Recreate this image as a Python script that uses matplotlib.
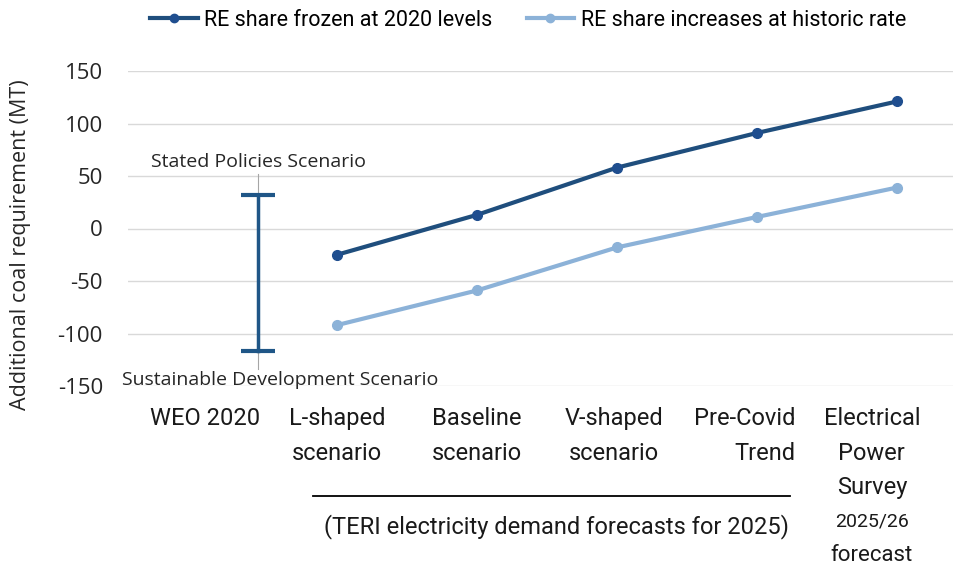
import matplotlib
matplotlib.use("Agg")
import matplotlib.pyplot as plt
from matplotlib import font_manager as fm
from matplotlib.lines import Line2D

names = {f.name for f in fm.fontManager.ttflist}
NARROW = ['Liberation Sans Narrow', 'DejaVu Sans'] if 'Liberation Sans Narrow' in names else ['Roboto', 'DejaVu Sans']
WIDE = ['Open Sans', 'DejaVu Sans']

# ---- data ----
categories = ["L-shaped\nscenario", "Baseline\nscenario", "V-shaped\nscenario", "Pre-Covid\nTrend", "Electrical\nPower\nSurvey"]
frozen = [-25, 13, 58, 91, 121]
historic = [-92, -59, -18, 11, 39]
weo_label = "WEO 2020"
weo_high = 32   # Stated Policies Scenario
weo_low = -117  # Sustainable Development Scenario
yticks = [-150, -100, -50, 0, 50, 100, 150]
series_names = ["RE share frozen at 2020 levels", "RE share increases at historic rate"]

DARK = '#1f4e7d'
LIGHT = '#8cb2d8'
EB = '#1f5687'
TXT = '#1a1a1a'

W, H = 954, 564
fig = plt.figure(figsize=(W / 100, H / 100), dpi=100)
ax = fig.add_axes([128 / W, 178 / H, (W - 128) / W, 315 / H])

x = [1, 2, 3, 4, 5]
ax.plot(x, frozen, color=DARK, lw=3, marker='o', ms=7, mfc='#1f4e8f', mec='#1f4e8f', zorder=3)
ax.plot(x, historic, color=LIGHT, lw=3, marker='o', ms=7, mfc=LIGHT, mec=LIGHT, zorder=3)

# WEO error bar
xw = 0.436
ax.plot([xw, xw], [weo_low, weo_high], color=EB, lw=2.5, zorder=3)
cap = 0.12
for yv in (weo_low, weo_high):
    ax.plot([xw - cap, xw + cap], [yv, yv], color=EB, lw=3, solid_capstyle='butt', zorder=3)
# leader lines
ax.plot([xw, xw], [weo_high, 52], color='#a6a6a6', lw=0.8, zorder=2)
ax.plot([xw, xw], [weo_low, -134], color='#a6a6a6', lw=0.8, zorder=2)
ax.text(xw, 63, "Stated Policies Scenario", ha='center', va='center', fontsize=14, family=WIDE, color='#262626')
ax.text(0.593, -144, "Sustainable Development Scenario", ha='center', va='center', fontsize=14, family=WIDE, color='#262626')

ax.set_xlim(-0.493, 5.407)
ax.set_ylim(-150, 150)
ax.set_yticks(yticks)
ax.set_yticklabels([str(v) for v in yticks], family=WIDE, fontsize=16, color='#262626')
ax.tick_params(axis='y', length=0, pad=18)
ax.grid(axis='y', color='#d9d9d9', lw=1)
ax.set_axisbelow(True)
for s in ax.spines.values():
    s.set_visible(False)

# x labels
label_pos = [0.057, 1.0, 2.0, 2.98, 3.91, 4.82]
ax.set_xticks(label_pos)
ax.set_xticklabels([weo_label] + categories, family=NARROW, fontsize=17, color=TXT, linespacing=1.65, va='top')
ax.tick_params(axis='x', length=0, pad=15)
ax.get_xticklabels()[4].set_multialignment('right')
ax.text(4.82, -279.5, "2025/26", ha='center', va='center', fontsize=14, family=NARROW, color=TXT)
ax.text(4.82, -311, "forecast", ha='center', va='center', fontsize=16, family=NARROW, color=TXT)

# TERI bracket line and text
fig.add_artist(Line2D([313 / W, 790 / W], [1 - 496 / H, 1 - 496 / H], color='black', lw=1.3))
fig.text(557 / W, 1 - 527 / H, "(TERI electricity demand forecasts for 2025)", ha='center', va='center',
         fontsize=17, family=NARROW, color=TXT)

ax.set_ylabel("Additional coal requirement (MT)", family=WIDE, fontsize=15.5, color='#262626')
ax.yaxis.set_label_coords(-97 / (W - 128), 0.45)

# legend
handles = [Line2D([], [], color=DARK, lw=3, marker='o', ms=6, mfc='#1f4e8f', mec='#1f4e8f'),
           Line2D([], [], color=LIGHT, lw=3, marker='o', ms=6)]
fig.legend(handles, series_names, loc='center', bbox_to_anchor=(528 / W, 1 - 20 / H), ncol=2, frameon=False,
           prop={'family': NARROW, 'size': 15.5}, handlelength=2.2, handletextpad=0.3, columnspacing=1.6)

fig.savefig("out.png", dpi=100)
